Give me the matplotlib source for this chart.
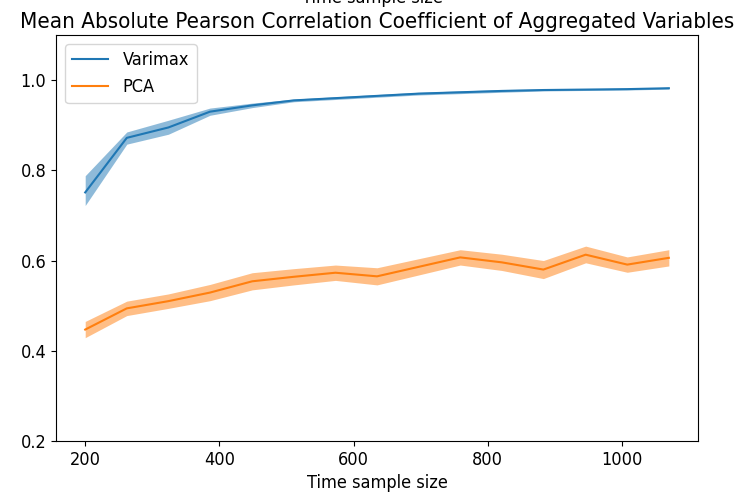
import numpy as np
import matplotlib
matplotlib.use('Agg')
import matplotlib.pyplot as plt

plt.rcParams['font.family'] = 'DejaVu Sans'
plt.rcParams['font.stretch'] = 'condensed'

sample_sizes = [200, 262, 324, 386, 449, 511, 573, 635, 697, 759, 821, 883, 946, 1008, 1070]

varimax_mean = [0.751, 0.872, 0.895, 0.930, 0.944, 0.955, 0.960, 0.965, 0.970, 0.973,
                0.976, 0.978, 0.979, 0.980, 0.982]
varimax_lo = [0.722, 0.858, 0.880, 0.922, 0.939, 0.952, 0.957, 0.962, 0.967, 0.970,
              0.973, 0.976, 0.977, 0.978, 0.980]
varimax_hi = [0.788, 0.885, 0.911, 0.938, 0.949, 0.958, 0.963, 0.968, 0.973, 0.976,
              0.979, 0.980, 0.981, 0.982, 0.984]

pca_mean = [0.447, 0.494, 0.510, 0.529, 0.554, 0.564, 0.573, 0.565, 0.586, 0.607,
            0.596, 0.580, 0.613, 0.591, 0.606]
pca_lo = [0.429, 0.478, 0.494, 0.511, 0.535, 0.546, 0.556, 0.546, 0.568, 0.590,
          0.578, 0.560, 0.595, 0.574, 0.588]
pca_hi = [0.465, 0.510, 0.526, 0.547, 0.573, 0.582, 0.590, 0.584, 0.604, 0.624,
          0.614, 0.600, 0.632, 0.608, 0.624]

fig = plt.figure(figsize=(7.44, 4.97), dpi=100)
ax = fig.add_axes([0.0753, 0.1127, 0.8629, 0.8169])

ax.plot(sample_sizes, varimax_mean, color='C0', label='Varimax')
ax.fill_between(sample_sizes, varimax_lo, varimax_hi, color='C0', alpha=0.5, linewidth=0)
ax.plot(sample_sizes, pca_mean, color='C1', label='PCA')
ax.fill_between(sample_sizes, pca_lo, pca_hi, color='C1', alpha=0.5, linewidth=0)

ax.set_ylim(0.2, 1.1)
ax.set_yticks([0.2, 0.4, 0.6, 0.8, 1.0])
ax.set_xlabel('Time sample size', fontsize=13)
ax.set_title('Mean Absolute Pearson Correlation Coefficient of Aggregated Variables',
             fontsize=16, pad=5)
ax.tick_params(labelsize=13)
ax.legend(loc='upper left', fontsize=13)

# xlabel of the plot above, cut off by the top edge
fig.text(0.5, 1.004, 'Time sample size', ha='center', va='center', fontsize=13)

plt.savefig('out.png')
